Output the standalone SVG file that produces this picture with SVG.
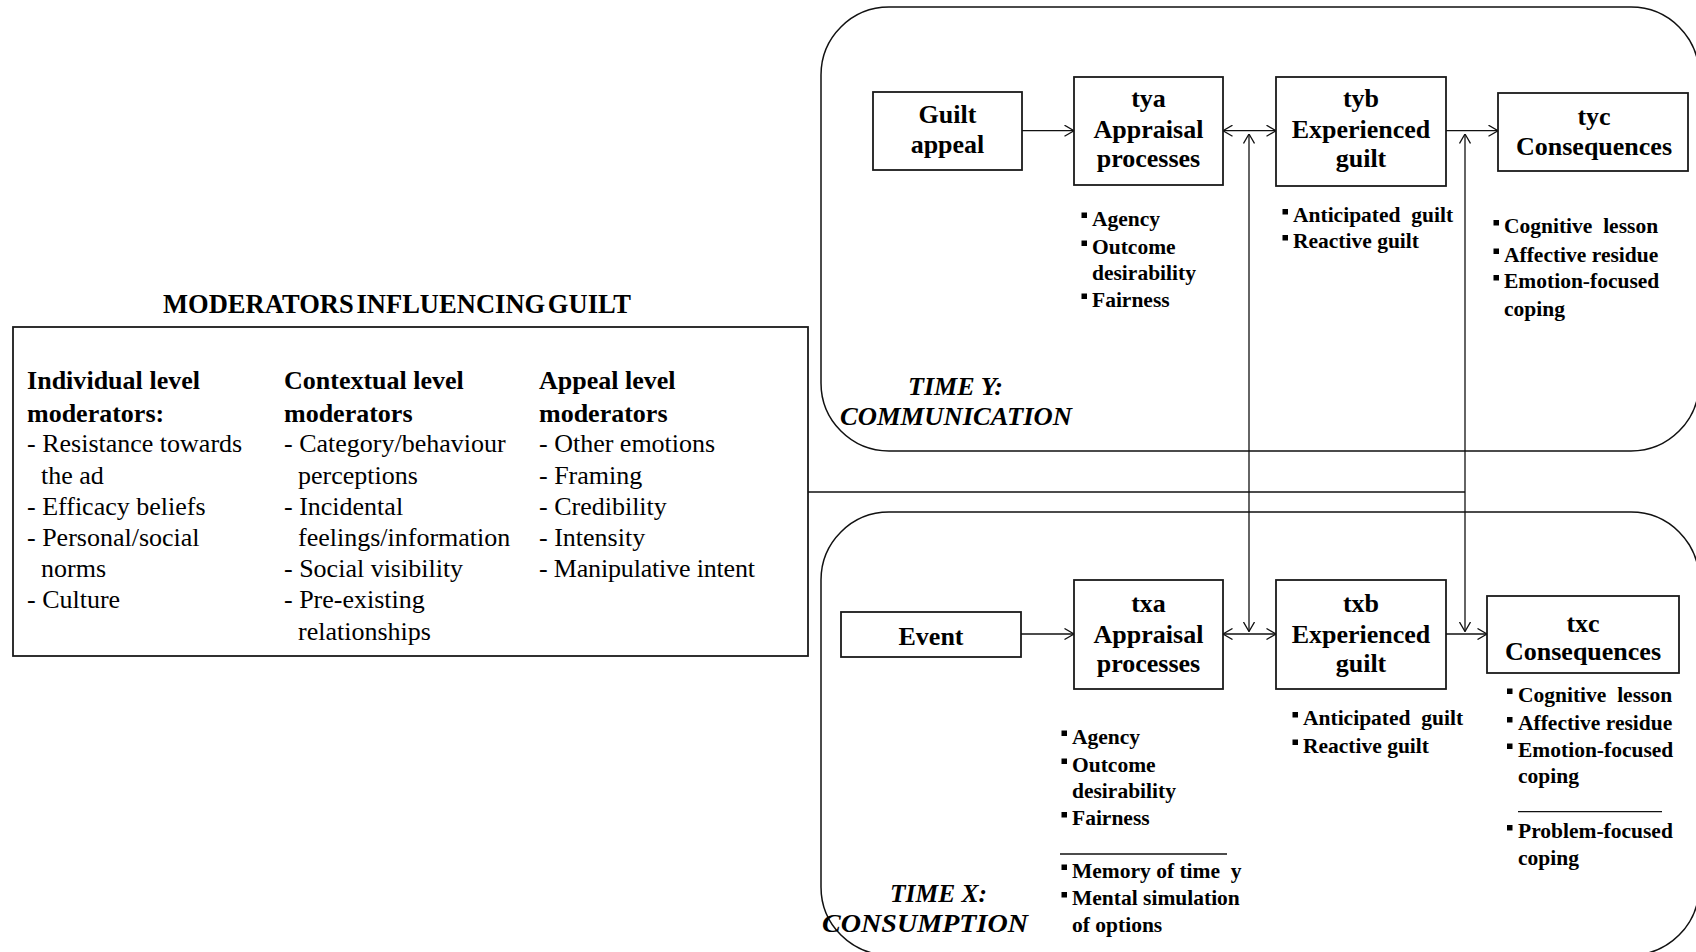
<svg xmlns="http://www.w3.org/2000/svg" width="1696" height="952" viewBox="0 0 1696 952">
<style>
text{font-family:"Liberation Serif","Times New Roman",serif;fill:#000;white-space:pre}
.n{font-weight:bold;font-size:26px;text-anchor:middle}
.b{font-weight:bold;font-size:21.5px}
.m{font-size:26px}
.mh{font-size:26px;font-weight:bold}
.t{font-size:25px;font-weight:bold;font-style:italic}
.ttl{font-size:26.5px;font-weight:bold;word-spacing:-4px}
.box{fill:#fff;stroke:#1a1a1a;stroke-width:1.8}
.frame{fill:none;stroke:#111;stroke-width:1.5}
.ln{fill:none;stroke:#111;stroke-width:1.3}
.sq{fill:#000}
</style>
<defs>
<marker id="ah" viewBox="0 0 10 12" refX="10" refY="6" markerWidth="10" markerHeight="12" markerUnits="userSpaceOnUse" orient="auto-start-reverse">
<path d="M0.5,0.5 L10,6 L0.5,11.5" fill="none" stroke="#111" stroke-width="1.3"/>
</marker>
</defs>
<rect width="1696" height="952" fill="#fff"/>

<g id="frame-time-y">
<rect class="frame" x="821" y="7" width="878" height="444" rx="68" ry="68"/>
<text class="t" x="908" y="395" textLength="95" lengthAdjust="spacingAndGlyphs">TIME Y:</text>
<text class="t" x="840" y="425" textLength="232" lengthAdjust="spacingAndGlyphs">COMMUNICATION</text>
</g>
<g id="frame-time-x">
<rect class="frame" x="821" y="512" width="878" height="443" rx="68" ry="68"/>
<text class="t" x="890" y="902" textLength="97" lengthAdjust="spacingAndGlyphs">TIME X:</text>
<text class="t" x="822" y="932" textLength="206" lengthAdjust="spacingAndGlyphs">CONSUMPTION</text>
</g>

<g id="moderators">
<text class="ttl" x="163" y="313" textLength="468" lengthAdjust="spacing">MODERATORS INFLUENCING GUILT</text>
<rect class="box" x="13" y="327" width="795" height="329"/>
<text class="mh" x="27" y="389" textLength="173" lengthAdjust="spacing">Individual level</text>
<text class="mh" x="27" y="421.7">moderators:</text>
<text class="m" x="27" y="451.7">- Resistance towards</text>
<text class="m" x="41" y="484">the ad</text>
<text class="m" x="27" y="515">- Efficacy beliefs</text>
<text class="m" x="27" y="545.5">- Personal/social</text>
<text class="m" x="41" y="577">norms</text>
<text class="m" x="27" y="608">- Culture</text>

<text class="mh" x="284" y="389">Contextual level</text>
<text class="mh" x="284" y="421.7">moderators</text>
<text class="m" x="284" y="451.7">- Category/behaviour</text>
<text class="m" x="298" y="484">perceptions</text>
<text class="m" x="284" y="515">- Incidental</text>
<text class="m" x="298" y="545.5">feelings/information</text>
<text class="m" x="284" y="577">- Social visibility</text>
<text class="m" x="284" y="608">- Pre-existing</text>
<text class="m" x="298" y="640">relationships</text>

<text class="mh" x="539" y="389">Appeal level</text>
<text class="mh" x="539" y="421.7">moderators</text>
<text class="m" x="539" y="451.7">- Other emotions</text>
<text class="m" x="539" y="484">- Framing</text>
<text class="m" x="539" y="515">- Credibility</text>
<text class="m" x="539" y="545.5">- Intensity</text>
<text class="m" x="539" y="577" textLength="216" lengthAdjust="spacing">- Manipulative intent</text>
</g>

<g id="guilt-appeal">
<rect class="box" x="873" y="92" width="149" height="78"/>
<text class="n" x="947.5" y="123">Guilt</text>
<text class="n" x="947.5" y="153">appeal</text>
</g>

<g id="tya">
<rect class="box" x="1074" y="77" width="149" height="108"/>
<text class="n" x="1148.5" y="107">tya</text>
<text class="n" x="1148.5" y="138">Appraisal</text>
<text class="n" x="1148.5" y="167">processes</text>
<rect class="sq" x="1081.5" y="212.5" width="5.5" height="5.5"/>
<text class="b" x="1092" y="225.5">Agency</text>
<rect class="sq" x="1081.5" y="240.5" width="5.5" height="5.5"/>
<text class="b" x="1092" y="253.5">Outcome</text>
<text class="b" x="1092" y="280">desirability</text>
<rect class="sq" x="1081.5" y="293.5" width="5.5" height="5.5"/>
<text class="b" x="1092" y="306.5">Fairness</text>
</g>

<g id="tyb">
<rect class="box" x="1276" y="77" width="170" height="109"/>
<text class="n" x="1361" y="107">tyb</text>
<text class="n" x="1361" y="138">Experienced</text>
<text class="n" x="1361" y="167">guilt</text>
<rect class="sq" x="1282.5" y="209" width="5.5" height="5.5"/>
<text class="b" x="1293" y="222" xml:space="preserve">Anticipated  guilt</text>
<rect class="sq" x="1282.5" y="235" width="5.5" height="5.5"/>
<text class="b" x="1293" y="248">Reactive guilt</text>
</g>

<g id="tyc">
<rect class="box" x="1498" y="93" width="190" height="78"/>
<text class="n" x="1594" y="125">tyc</text>
<text class="n" x="1594" y="155">Consequences</text>
<rect class="sq" x="1493.5" y="220" width="5.5" height="5.5"/>
<text class="b" x="1504" y="233" xml:space="preserve">Cognitive  lesson</text>
<rect class="sq" x="1493.5" y="248.5" width="5.5" height="5.5"/>
<text class="b" x="1504" y="261.5">Affective residue</text>
<rect class="sq" x="1493.5" y="275" width="5.5" height="5.5"/>
<text class="b" x="1504" y="288">Emotion-focused</text>
<text class="b" x="1504" y="316">coping</text>
</g>

<g id="event">
<rect class="box" x="841" y="612" width="180" height="45"/>
<text class="n" x="931" y="645">Event</text>
</g>

<g id="txa">
<rect class="box" x="1074" y="580" width="149" height="109"/>
<text class="n" x="1148.5" y="611.7">txa</text>
<text class="n" x="1148.5" y="643">Appraisal</text>
<text class="n" x="1148.5" y="672">processes</text>
<rect class="sq" x="1061.5" y="730.5" width="5.5" height="5.5"/>
<text class="b" x="1072" y="743.5">Agency</text>
<rect class="sq" x="1061.5" y="758.5" width="5.5" height="5.5"/>
<text class="b" x="1072" y="771.5">Outcome</text>
<text class="b" x="1072" y="797.5">desirability</text>
<rect class="sq" x="1061.5" y="812" width="5.5" height="5.5"/>
<text class="b" x="1072" y="825">Fairness</text>
<line class="ln" x1="1060" y1="854" x2="1227" y2="854"/>
<rect class="sq" x="1061.5" y="864.5" width="5.5" height="5.5"/>
<text class="b" x="1072" y="877.5" xml:space="preserve">Memory of time  y</text>
<rect class="sq" x="1061.5" y="892" width="5.5" height="5.5"/>
<text class="b" x="1072" y="905">Mental simulation</text>
<text class="b" x="1072" y="931.5">of options</text>
</g>

<g id="txb">
<rect class="box" x="1276" y="580" width="170" height="109"/>
<text class="n" x="1361" y="611.7">txb</text>
<text class="n" x="1361" y="643">Experienced</text>
<text class="n" x="1361" y="672">guilt</text>
<rect class="sq" x="1292.5" y="712" width="5.5" height="5.5"/>
<text class="b" x="1303" y="725" xml:space="preserve">Anticipated  guilt</text>
<rect class="sq" x="1292.5" y="739.5" width="5.5" height="5.5"/>
<text class="b" x="1303" y="752.5">Reactive guilt</text>
</g>

<g id="txc">
<rect class="box" x="1487" y="596" width="192" height="77"/>
<text class="n" x="1583" y="631.7">txc</text>
<text class="n" x="1583" y="660">Consequences</text>
<rect class="sq" x="1507" y="688.5" width="5.5" height="5.5"/>
<text class="b" x="1518" y="701.5" xml:space="preserve">Cognitive  lesson</text>
<rect class="sq" x="1507" y="717" width="5.5" height="5.5"/>
<text class="b" x="1518" y="730">Affective residue</text>
<rect class="sq" x="1507" y="743.5" width="5.5" height="5.5"/>
<text class="b" x="1518" y="756.5">Emotion-focused</text>
<text class="b" x="1518" y="783">coping</text>
<line class="ln" x1="1518" y1="811.7" x2="1662" y2="811.7"/>
<rect class="sq" x="1507" y="825" width="5.5" height="5.5"/>
<text class="b" x="1518" y="838">Problem-focused</text>
<text class="b" x="1518" y="865">coping</text>
</g>

<g id="connectors">
<line class="ln" x1="1022" y1="130.7" x2="1074" y2="130.7" marker-end="url(#ah)"/>
<line class="ln" x1="1223" y1="130.7" x2="1276" y2="130.7" marker-start="url(#ah)" marker-end="url(#ah)"/>
<line class="ln" x1="1446" y1="130.7" x2="1498" y2="130.7" marker-end="url(#ah)"/>
<line class="ln" x1="1021" y1="634" x2="1074" y2="634" marker-end="url(#ah)"/>
<line class="ln" x1="1223" y1="634" x2="1276" y2="634" marker-start="url(#ah)" marker-end="url(#ah)"/>
<line class="ln" x1="1446" y1="634" x2="1487" y2="634" marker-end="url(#ah)"/>
<line class="ln" x1="808" y1="492" x2="1465" y2="492"/>
<line class="ln" x1="1249" y1="134" x2="1249" y2="631.5" marker-start="url(#ah)" marker-end="url(#ah)"/>
<line class="ln" x1="1465" y1="134" x2="1465" y2="631.5" marker-start="url(#ah)" marker-end="url(#ah)"/>
</g>
</svg>
